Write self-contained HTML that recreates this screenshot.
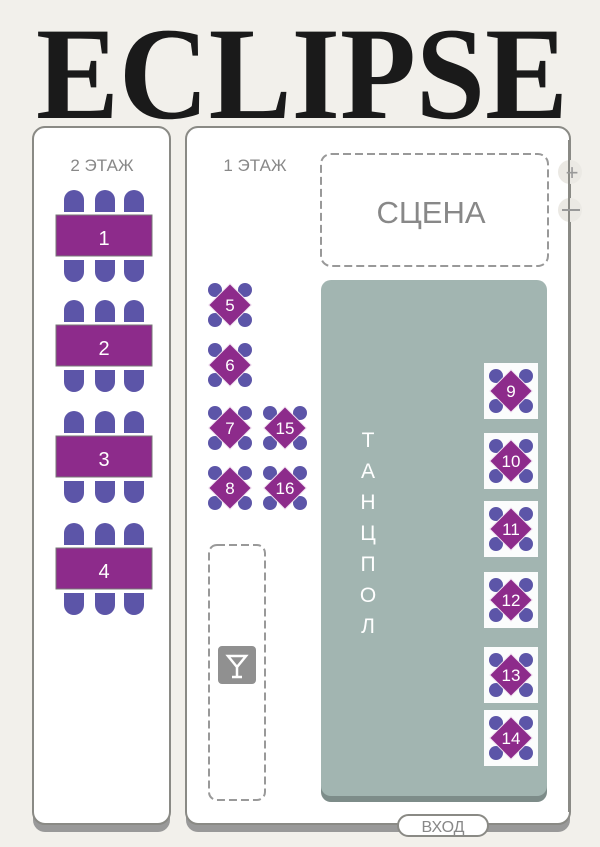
<!DOCTYPE html>
<html><head><meta charset="utf-8"><style>
html,body{margin:0;padding:0;background:#f2f0eb;}
svg{display:block;}
text{font-family:"Liberation Sans",sans-serif;}
</style></head><body>
<svg width="600" height="847" viewBox="0 0 600 847" xmlns="http://www.w3.org/2000/svg">
<defs>
<g id="dt">
  <circle cx="-15" cy="-15" r="7" fill="#5c55a8"/>
  <circle cx="15" cy="-15" r="7" fill="#5c55a8"/>
  <circle cx="-15" cy="15" r="7" fill="#5c55a8"/>
  <circle cx="15" cy="15" r="7" fill="#5c55a8"/>
  <rect x="-15" y="-15" width="30" height="30" fill="#8d2b8b" stroke="#f0e0f0" stroke-width="1" transform="rotate(45)"/>
</g>
<g id="lt">
  <path d="M8 212 v-12 a10 10 0 0 1 20 0 v12 z" fill="#5c55a8"/>
  <path d="M39 212 v-12 a10 10 0 0 1 20 0 v12 z" fill="#5c55a8"/>
  <path d="M68 212 v-12 a10 10 0 0 1 20 0 v12 z" fill="#5c55a8"/>
  <path d="M8 260 v12 a10 10 0 0 0 20 0 v-12 z" fill="#5c55a8"/>
  <path d="M39 260 v12 a10 10 0 0 0 20 0 v-12 z" fill="#5c55a8"/>
  <path d="M68 260 v12 a10 10 0 0 0 20 0 v-12 z" fill="#5c55a8"/>
  <rect x="0" y="215" width="96" height="41" fill="#8d2b8b" stroke="#777" stroke-width="1"/>
</g>
</defs>
<rect width="600" height="847" fill="#f2f0eb"/>
<text x="36" y="118" font-weight="bold" font-size="132" textLength="532" lengthAdjust="spacingAndGlyphs" fill="#1a1a1a" style="font-family:'Liberation Serif',serif">ECLIPSE</text>

<!-- left panel -->
<rect x="33" y="132" width="137" height="700" rx="12" fill="#999"/>
<rect x="33" y="127" width="137" height="697" rx="12" fill="#fff" stroke="#8a8a85" stroke-width="2"/>
<text x="102" y="171" font-size="17" fill="#888" text-anchor="middle">2 ЭТАЖ</text>
<g transform="translate(56,0)"><use href="#lt"/><text x="48" y="245" font-size="20" fill="#fff" text-anchor="middle">1</text></g>
<g transform="translate(56,110)"><use href="#lt"/><text x="48" y="245" font-size="20" fill="#fff" text-anchor="middle">2</text></g>
<g transform="translate(56,221)"><use href="#lt"/><text x="48" y="245" font-size="20" fill="#fff" text-anchor="middle">3</text></g>
<g transform="translate(56,333)"><use href="#lt"/><text x="48" y="245" font-size="20" fill="#fff" text-anchor="middle">4</text></g>

<!-- right panel -->
<rect x="186" y="132" width="384" height="700" rx="12" fill="#999"/>
<rect x="186" y="127" width="384" height="697" rx="12" fill="#fff" stroke="#8a8a85" stroke-width="2"/>
<circle cx="570" cy="172" r="12" fill="#ebe9e4"/>
<circle cx="570" cy="210" r="12" fill="#ebe9e4"/>
<line x1="569" y1="140" x2="569" y2="812" stroke="#8a8a85" stroke-width="2"/>
<text x="572" y="180" font-size="22" fill="#999" text-anchor="middle">+</text>
<line x1="562" y1="210" x2="580" y2="210" stroke="#999" stroke-width="2"/>
<text x="255" y="171" font-size="17" fill="#888" text-anchor="middle">1 ЭТАЖ</text>
<rect x="321" y="154" width="227" height="112" rx="10" fill="none" stroke="#999" stroke-width="2" stroke-dasharray="8,4"/>
<text x="431" y="223" font-size="31" fill="#888" text-anchor="middle">СЦЕНА</text>

<rect x="321" y="284" width="226" height="518" rx="10" fill="#7d8c89"/>
<rect x="321" y="280" width="226" height="516" rx="10" fill="#a2b5b1"/>
<g font-size="21" fill="#fff" text-anchor="middle">
<text x="368" y="447">Т</text><text x="368" y="478">А</text><text x="368" y="509">Н</text><text x="368" y="540">Ц</text><text x="368" y="571">П</text><text x="368" y="602">О</text><text x="368" y="633">Л</text>
</g>

<rect x="209" y="545" width="56" height="255" rx="8" fill="none" stroke="#999" stroke-width="2" stroke-dasharray="8,4"/>
<rect x="218" y="646" width="38" height="38" rx="4" fill="#909090"/>
<path d="M228 656 h18 l-9 11 z M237 667 v9 M232 677 h10" fill="none" stroke="#fff" stroke-width="2.5"/>

<g font-size="17" fill="#fff" text-anchor="middle">
<g transform="translate(230,305)"><use href="#dt"/><text y="6">5</text></g>
<g transform="translate(230,365)"><use href="#dt"/><text y="6">6</text></g>
<g transform="translate(230,428)"><use href="#dt"/><text y="6">7</text></g>
<g transform="translate(230,488)"><use href="#dt"/><text y="6">8</text></g>
<g transform="translate(285,428)"><use href="#dt"/><text y="6">15</text></g>
<g transform="translate(285,488)"><use href="#dt"/><text y="6">16</text></g>
<g transform="translate(511,391)"><rect x="-27" y="-28" width="54" height="56" fill="#fbfcfc"/><use href="#dt"/><text y="6">9</text></g>
<g transform="translate(511,461)"><rect x="-27" y="-28" width="54" height="56" fill="#fbfcfc"/><use href="#dt"/><text y="6">10</text></g>
<g transform="translate(511,529)"><rect x="-27" y="-28" width="54" height="56" fill="#fbfcfc"/><use href="#dt"/><text y="6">11</text></g>
<g transform="translate(511,600)"><rect x="-27" y="-28" width="54" height="56" fill="#fbfcfc"/><use href="#dt"/><text y="6">12</text></g>
<g transform="translate(511,675)"><rect x="-27" y="-28" width="54" height="56" fill="#fbfcfc"/><use href="#dt"/><text y="6">13</text></g>
<g transform="translate(511,738)"><rect x="-27" y="-28" width="54" height="56" fill="#fbfcfc"/><use href="#dt"/><text y="6">14</text></g>
</g>

<rect x="398" y="815" width="90" height="21" rx="10.5" fill="#fff" stroke="#8a8a85" stroke-width="2"/>
<text x="443" y="832" font-size="16" fill="#888" text-anchor="middle">ВХОД</text>
</svg>
</body></html>
